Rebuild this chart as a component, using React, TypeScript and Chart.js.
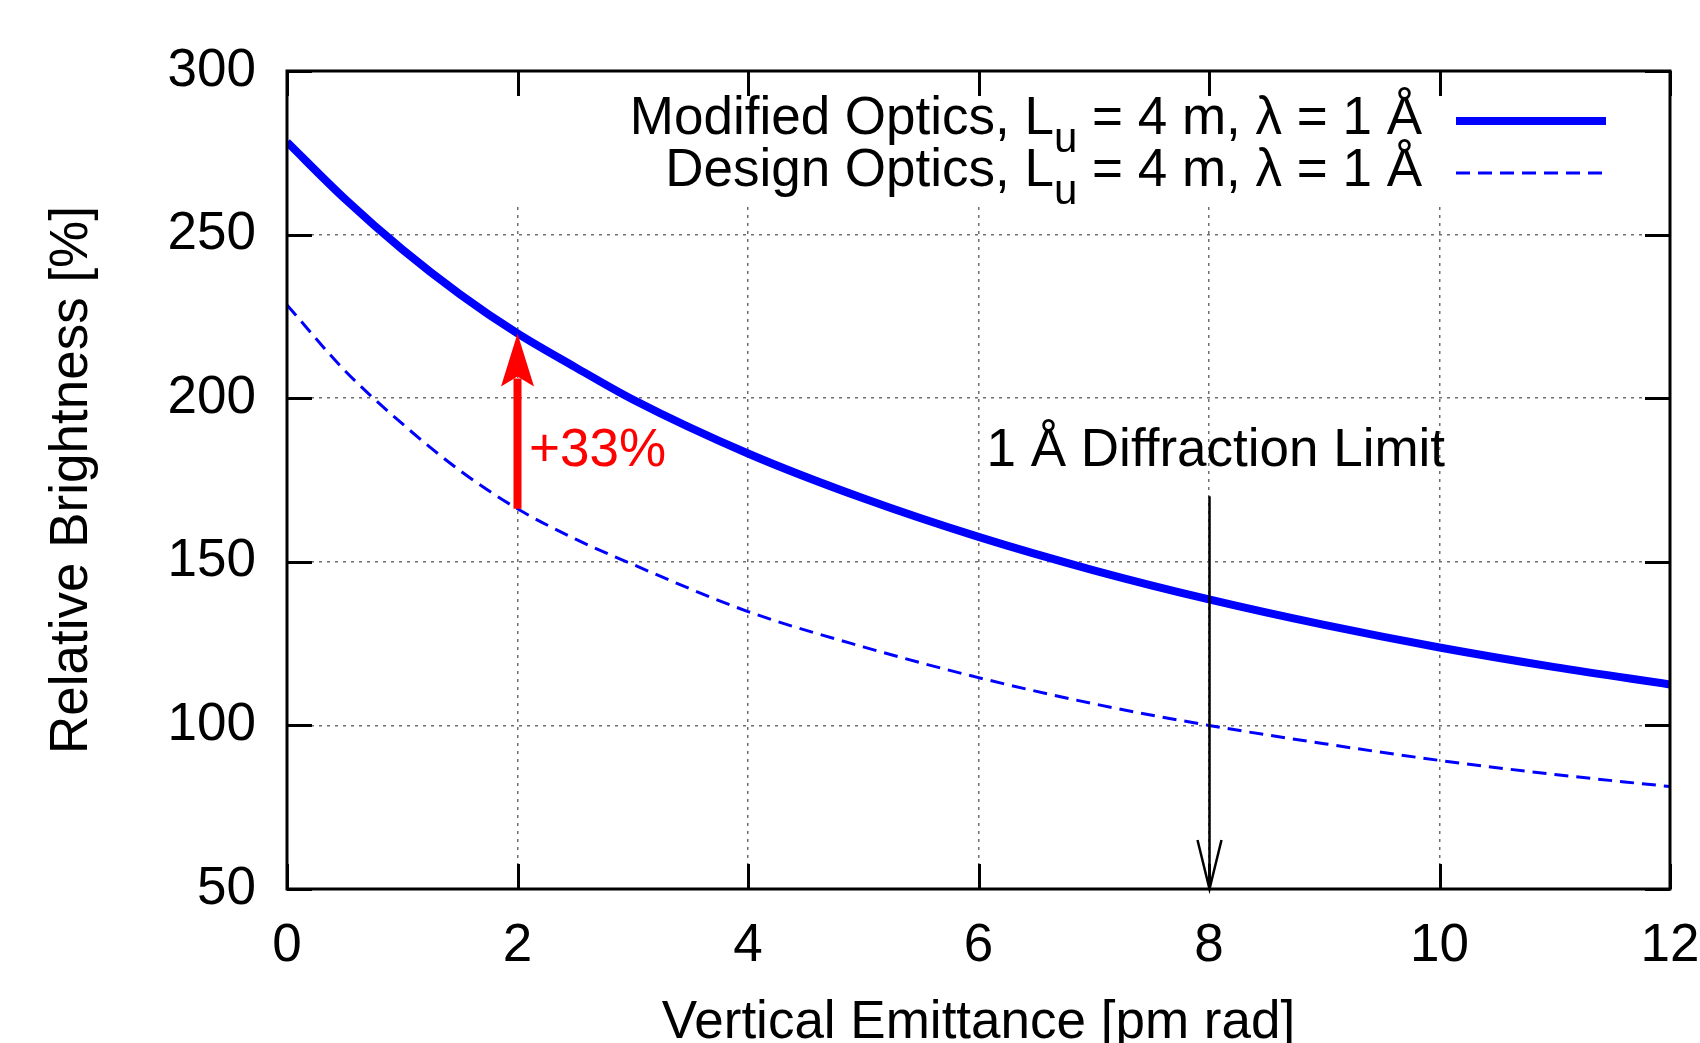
import React, { useEffect, useRef } from "react";
import { Chart, registerables } from "chart.js";

Chart.register(...registerables);

const emittance = [0, 0.5, 1, 1.5, 2, 2.5, 3, 4, 5, 6, 7, 8, 9, 10, 11, 12];
const modifiedOptics = [278.3, 261, 245.5, 231.8, 219.8, 209.5, 199.6, 183.1, 169.4, 157.6, 147.4, 138.5, 130.7, 123.8, 117.8, 112.5];
const designOptics = [228.5, 208.5, 192.2, 177.9, 166.2, 157, 149.2, 134.8, 124, 114.6, 106.6, 100, 94.4, 89.3, 85, 81.3];
const xTickValues = [0, 2, 4, 6, 8, 10, 12];
const yTickValues = [50, 100, 150, 200, 250, 300];
const legendModified = ["Modified Optics, L", "u", " = 4 m, λ = 1 Å"];
const legendDesign = ["Design Optics, L", "u", " = 4 m, λ = 1 Å"];
const xTitle = "Vertical Emittance [pm rad]";
const yTitle = "Relative Brightness [%]";
const limitLabel = "1 Å Diffraction Limit";
const gainLabel = "+33%";
const limitX = 8;
const gainX = 2;

const FONT = "'Liberation Sans', Arial, Helvetica, sans-serif";
const FS = 53;
const BLUE = "#0000ff";

function drawLegendLine(ctx: CanvasRenderingContext2D, parts: string[], rightX: number, baseline: number) {
  const main = `${FS}px ${FONT}`;
  const sub = `42px ${FONT}`;
  ctx.font = main;
  const w0 = ctx.measureText(parts[0]).width;
  const w2 = ctx.measureText(parts[2]).width;
  ctx.font = sub;
  const w1 = ctx.measureText(parts[1]).width;
  let x = rightX - (w0 + w1 + w2);
  ctx.textAlign = "left";
  ctx.textBaseline = "alphabetic";
  ctx.fillStyle = "#000";
  ctx.font = main;
  ctx.fillText(parts[0], x, baseline);
  x += w0;
  ctx.font = sub;
  ctx.fillText(parts[1], x, baseline + 18);
  x += w1;
  ctx.font = main;
  ctx.fillText(parts[2], x, baseline);
}

const decorPlugin = {
  id: "decor",
  beforeDatasetsDraw(chart: any) {
    const { ctx, chartArea } = chart;
    ctx.save();
    ctx.fillStyle = "#fff";
    ctx.fillRect(440, chartArea.top + 1, chartArea.right - 441, 202 - chartArea.top);
    ctx.restore();
  },
  afterDraw(chart: any) {
    const { ctx, chartArea, scales } = chart;
    const xs = scales.x;
    const ys = scales.y;
    const { left, right, top, bottom } = chartArea;
    ctx.save();
    // inside ticks on all sides
    ctx.strokeStyle = "#000";
    ctx.lineWidth = 3;
    const tl = 25;
    ctx.beginPath();
    xTickValues.forEach((v) => {
      const px = Math.round(xs.getPixelForValue(v)) + 0.5;
      ctx.moveTo(px, bottom);
      ctx.lineTo(px, bottom - tl);
      ctx.moveTo(px, top);
      ctx.lineTo(px, top + tl);
    });
    yTickValues.forEach((v) => {
      const py = Math.round(ys.getPixelForValue(v)) + 0.5;
      ctx.moveTo(left, py);
      ctx.lineTo(left + tl, py);
      ctx.moveTo(right, py);
      ctx.lineTo(right - tl, py);
    });
    ctx.stroke();
    // border
    ctx.lineWidth = 3;
    ctx.strokeRect(left, top, right - left, bottom - top);

    // legend
    drawLegendLine(ctx, legendModified, 1422, 134);
    drawLegendLine(ctx, legendDesign, 1422, 186);
    ctx.strokeStyle = BLUE;
    ctx.lineWidth = 8;
    ctx.beginPath();
    ctx.moveTo(1456, 121);
    ctx.lineTo(1606, 121);
    ctx.stroke();
    ctx.lineWidth = 3;
    ctx.setLineDash([14, 8]);
    ctx.beginPath();
    ctx.moveTo(1456, 173);
    ctx.lineTo(1606, 173);
    ctx.stroke();
    ctx.setLineDash([]);

    // red arrow
    const rx = xs.getPixelForValue(gainX);
    const rBase = ys.getPixelForValue(designOptics[4]);
    const rTip = ys.getPixelForValue(modifiedOptics[4]);
    const headLen = 53;
    const headHalf = 16.5;
    ctx.strokeStyle = "#ff0000";
    ctx.fillStyle = "#ff0000";
    ctx.lineWidth = 8;
    ctx.beginPath();
    ctx.moveTo(rx, rBase);
    ctx.lineTo(rx, rTip + headLen - 8);
    ctx.stroke();
    ctx.beginPath();
    ctx.moveTo(rx, rTip);
    ctx.lineTo(rx - headHalf, rTip + headLen);
    ctx.lineTo(rx, rTip + headLen - 10);
    ctx.lineTo(rx + headHalf, rTip + headLen);
    ctx.closePath();
    ctx.fill();

    // +33% label
    ctx.font = `${FS}px ${FONT}`;
    ctx.textAlign = "left";
    ctx.textBaseline = "alphabetic";
    ctx.fillText(gainLabel, xs.getPixelForValue(2.1), ys.getPixelForValue(179.3));

    // black diffraction limit arrow
    const bx = Math.round(xs.getPixelForValue(limitX)) + 0.5;
    const bTop = ys.getPixelForValue(170);
    const bTip = ys.getPixelForValue(50);
    ctx.strokeStyle = "#000";
    ctx.lineWidth = 2.5;
    ctx.beginPath();
    ctx.moveTo(bx, bTop);
    ctx.lineTo(bx, bTip);
    ctx.moveTo(bx - 12, bTip - 49);
    ctx.lineTo(bx, bTip);
    ctx.lineTo(bx + 12, bTip - 49);
    ctx.stroke();
    ctx.fillStyle = "#000";
    ctx.fillText(limitLabel, xs.getPixelForValue(6.07), ys.getPixelForValue(179.3));

    // axis titles
    ctx.textAlign = "center";
    ctx.fillText(xTitle, (left + right) / 2, 1038);
    ctx.translate(87, (top + bottom) / 2);
    ctx.rotate(-Math.PI / 2);
    ctx.fillText(yTitle, 0, 0);
    ctx.restore();
  },
};

export default function App() {
  const ref = useRef<HTMLCanvasElement>(null);
  useEffect(() => {
    const canvas = ref.current!;
    const gridOpts = {
      color: "#6e6e6e",
      lineWidth: 1.5,
      drawTicks: false,
      borderDash: [3, 5],
    };
    const chart = new Chart(canvas, {
      type: "line",
      data: {
        datasets: [
          {
            label: legendModified.join(""),
            data: emittance.map((x, i) => ({ x, y: modifiedOptics[i] })),
            borderColor: BLUE,
            backgroundColor: BLUE,
            borderWidth: 8,
            pointRadius: 0,
            cubicInterpolationMode: "monotone",
            fill: false,
          },
          {
            label: legendDesign.join(""),
            data: emittance.map((x, i) => ({ x, y: designOptics[i] })),
            borderColor: BLUE,
            backgroundColor: BLUE,
            borderWidth: 3,
            borderDash: [14, 8],
            pointRadius: 0,
            cubicInterpolationMode: "monotone",
            fill: false,
          },
        ],
      },
      options: {
        responsive: false,
        animation: false,
        devicePixelRatio: 1,
        layout: { padding: { top: 71, right: 30, left: 0, bottom: 0 } },
        plugins: { legend: { display: false }, tooltip: { enabled: false } },
        scales: {
          x: {
            type: "linear",
            min: 0,
            max: 12,
            afterBuildTicks: (s: any) => {
              s.ticks = xTickValues.map((v) => ({ value: v }));
            },
            afterFit: (s: any) => {
              s.height = 154;
              s.paddingLeft = 0;
              s.paddingRight = 0;
            },
            ticks: {
              font: { family: FONT, size: FS },
              color: "#000",
              padding: 26,
              maxRotation: 0,
              autoSkip: false,
            },
            grid: gridOpts,
            border: { display: false, dash: [3, 5] },
          },
          y: {
            type: "linear",
            min: 50,
            max: 300,
            afterBuildTicks: (s: any) => {
              s.ticks = yTickValues.map((v) => ({ value: v }));
            },
            afterFit: (s: any) => {
              s.width = 287;
              s.paddingTop = 0;
              s.paddingBottom = 0;
            },
            ticks: {
              font: { family: FONT, size: FS },
              color: "#000",
              padding: 31,
              autoSkip: false,
            },
            grid: gridOpts,
            border: { display: false, dash: [3, 5] },
          },
        },
      } as any,
      plugins: [decorPlugin],
    } as any);
    return () => chart.destroy();
  }, []);
  return (
    <div style={{ position: "absolute", left: 0, top: 0, width: 1700, height: 1043, background: "#fff" }}>
      <canvas ref={ref} width={1700} height={1043} style={{ width: 1700, height: 1043, display: "block" }} />
    </div>
  );
}
